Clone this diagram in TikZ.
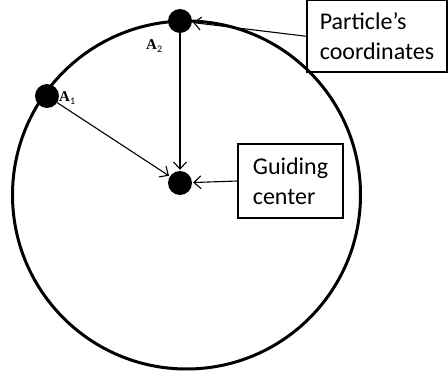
\documentclass[tikz,border=0pt]{standalone}
\usepackage{fontspec}
\setmainfont{Carlito}
\newfontfamily\labfont{Liberation Serif}
\usetikzlibrary{arrows.meta}
\begin{document}
\begin{tikzpicture}[x=1pt,y=-1pt,
  dot/.style={circle,fill=black,inner sep=0pt,minimum size=24pt},
  box/.style={draw,line width=1.1pt,inner sep=0pt,font=\fontsize{24}{30}\selectfont,align=left},
  conn/.style={line width=1.1pt,-{Straight Barb[length=7pt,width=13pt,line width=1.1pt]},shorten >=1pt},
  lab/.style={font=\labfont\fontsize{15}{15}\selectfont\bfseries,inner sep=0pt}]
\useasboundingbox (0,0) rectangle (448,377);
\draw[line width=3pt] (186.5,195) circle[radius=174];
\node[dot] (a2) at (180,21) {};
\node[dot] (a1) at (47,96) {};
\node[dot] (gc) at (180,183) {};
\node[box,minimum width=140pt,minimum height=71.5pt] (pbox) at (377,36.3) {Particle’s\\coordinates};
\node[box,minimum width=105pt,minimum height=74pt] (gbox) at (290.5,181) {Guiding\\center};
\node[lab,anchor=base west] (l2) at (146,50) {A\textsubscript{\normalfont\fontsize{10}{10}\selectfont 2}};
\node[lab,anchor=base west] (l1) at (59,102) {A\textsubscript{\normalfont\fontsize{10}{10}\selectfont 1}};
\draw[conn] (a2) -- (gc);
\draw[conn] (a1) -- (gc);
\draw[conn] (gbox.west) -- (gc);
\draw[conn] (pbox.west) -- (a2);
\end{tikzpicture}
\end{document}
